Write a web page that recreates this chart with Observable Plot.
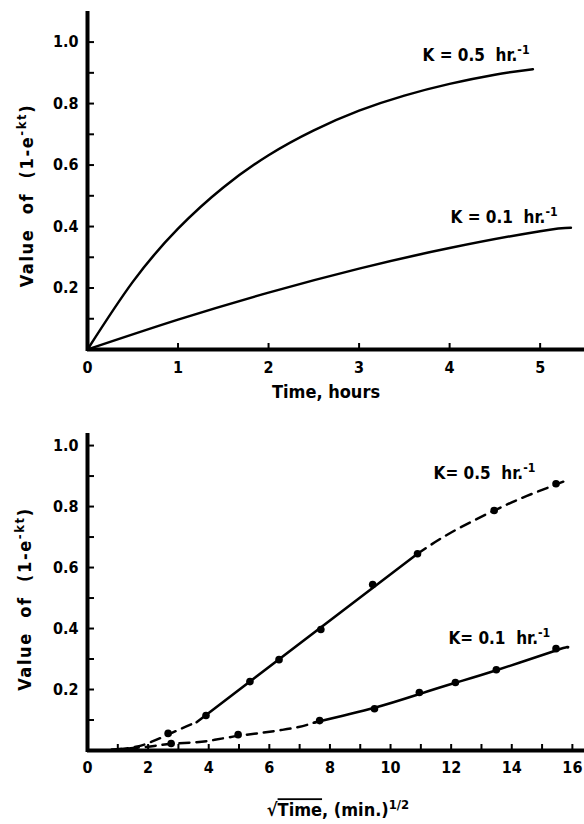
<!DOCTYPE html>
<html><head><meta charset="utf-8">
<script src="https://cdn.jsdelivr.net/npm/d3@7"></script>
<script src="https://cdn.jsdelivr.net/npm/@observablehq/plot@0.6"></script>
<style>
body{margin:0;background:#fff;}
#chart{width:584px;}
svg{display:block;}
</style></head><body><div id="chart"></div>
<script>
// ---------- Top panel data (time in hours) ----------
const hoursK05 = [0, 0.5, 1, 1.5, 2, 2.5, 3, 3.5, 4, 4.5, 4.92];
const valueK05 = [0, 0.22, 0.393, 0.527, 0.632, 0.713, 0.777, 0.826, 0.864, 0.894, 0.912];
const hoursK01 = [0, 1, 2, 3, 4, 5, 5.34];
const valueK01 = [0, 0.097, 0.185, 0.263, 0.33, 0.385, 0.396];
const topXLabels = [0, 1, 2, 3, 4, 5];
const yMinorTicks = [0.1, 0.2, 0.3, 0.4, 0.5, 0.6, 0.7, 0.8, 0.9, 1.0];
const yLabels = [0.2, 0.4, 0.6, 0.8, 1.0];

// ---------- Bottom panel data (sqrt time, min^1/2) ----------
const ptsK05X = [2.66, 3.91, 5.36, 6.32, 7.70, 9.41, 10.89, 13.42, 15.46];
const ptsK05Y = [0.056, 0.115, 0.226, 0.298, 0.397, 0.544, 0.645, 0.787, 0.875];
const ptsK01X = [2.76, 4.97, 7.66, 9.47, 10.95, 12.14, 13.49, 15.46];
const ptsK01Y = [0.023, 0.052, 0.098, 0.137, 0.19, 0.223, 0.265, 0.334];
// fitted lines (solid) and extrapolations (dashed)
const solidK05X = [3.6, 10.89];
const solidK05Y = [0.093, 0.645];
const dashLowK05X = [1.0, 1.6, 2.1, 2.66, 3.1, 3.6];
const dashLowK05Y = [0.004, 0.012, 0.028, 0.052, 0.072, 0.093];
const dashHighK05X = [10.89, 12.0, 13.42, 14.5, 15.46, 15.85];
const dashHighK05Y = [0.645, 0.715, 0.787, 0.835, 0.872, 0.888];
const solidK01X = [7.5, 9.47, 10.95, 12.14, 13.49, 15.46, 15.85];
const solidK01Y = [0.092, 0.14, 0.185, 0.222, 0.263, 0.328, 0.338];
const dashK01X = [0.8, 1.5, 2.2, 2.76, 3.6, 4.2, 4.97, 5.75, 6.38, 6.97, 7.5];
const dashK01Y = [0.003, 0.008, 0.015, 0.022, 0.027, 0.035, 0.048, 0.058, 0.067, 0.077, 0.092];
const botXLabels = [0, 2, 4, 6, 8, 10, 12, 14, 16];
const botXMinor = [1, 2, 3, 4, 5, 6, 7, 8, 9, 10, 11, 12, 13, 14, 15, 16];

const zip = (xs, ys) => xs.map((x, i) => ({x, y: ys[i]}));
const FONT = "'DejaVu Sans Condensed', 'DejaVu Sans', sans-serif";
const f1 = d3.format(".1f");

function richify(svg) {
  svg.querySelectorAll("text").forEach(t => {
    const s = t.textContent;
    if (s.startsWith("Value")) t.style.letterSpacing = "1.6px";
    if (!/[\^~]\{/.test(s) || t.children.length) return;
    while (t.firstChild) t.removeChild(t.firstChild);
    const re = /(\^|~)\{([^}]*)\}/g; let last = 0, m;
    while ((m = re.exec(s))) {
      if (m.index > last) t.appendChild(document.createTextNode(s.slice(last, m.index)));
      const sp = document.createElementNS("http://www.w3.org/2000/svg", "tspan");
      sp.textContent = m[2];
      if (m[1] === "^") { sp.setAttribute("baseline-shift", "super"); sp.setAttribute("font-size", "72%"); }
      else { sp.style.textDecoration = "overline"; }
      t.appendChild(sp); last = re.lastIndex;
    }
    if (last < s.length) t.appendChild(document.createTextNode(s.slice(last)));
  });
  return svg;
}

const style = {fontFamily: FONT, fontWeight: "bold", fontSize: "16px", color: "#000", background: "#fff"};

const topPlot = Plot.plot({
  width: 584, height: 410,
  marginLeft: 87, marginRight: 0, marginTop: 13, marginBottom: 61,
  x: {domain: [0, 5.49]},
  y: {domain: [0, 1.093]},
  style,
  marks: [
    Plot.axisY(yMinorTicks, {tickSize: 7, dx: 7, text: null, label: null, strokeWidth: 2}),
    Plot.axisY(yLabels, {tickSize: 0, tickPadding: 9, tickFormat: f1, label: null, fontSize: 16}),
    Plot.axisX(topXLabels.filter(d => d > 0), {tickSize: 6, dy: -6, text: null, label: null, strokeWidth: 2}),
    Plot.axisX(topXLabels, {tickSize: 0, tickPadding: 12, tickFormat: d3.format("d"), label: null, fontSize: 16}),
    Plot.ruleX([0], {strokeWidth: 4, strokeLinecap: "square"}),
    Plot.ruleY([0], {strokeWidth: 4}),
    Plot.line(zip(hoursK05, valueK05), {x: "x", y: "y", curve: "natural", strokeWidth: 2.5}),
    Plot.line(zip(hoursK01, valueK01), {x: "x", y: "y", curve: "natural", strokeWidth: 2.5}),
    Plot.text(["K = 0.5  hr.^{-1}"], {x: 3.70, y: 0.956, textAnchor: "start", fontSize: 17}),
    Plot.text(["K = 0.1  hr.^{-1}"], {x: 4.01, y: 0.429, textAnchor: "start", fontSize: 17}),
    Plot.text(["Time, hours"], {frameAnchor: "bottom", textAnchor: "middle", lineAnchor: "middle", dx: -10, dy: 43, fontSize: 18}),
    Plot.text(["Value  of  (1-e^{-kt})"], {frameAnchor: "left", textAnchor: "middle", lineAnchor: "middle", rotate: -90, dx: -60, dy: 14, fontSize: 18})
  ]
});

const botPlot = Plot.plot({
  width: 584, height: 414,
  marginLeft: 87, marginRight: 0, marginTop: 25, marginBottom: 74,
  x: {domain: [0, 16.4]},
  y: {domain: [0, 1.033]},
  style,
  marks: [
    Plot.axisY(yMinorTicks, {tickSize: 7, dx: 7, text: null, label: null, strokeWidth: 2}),
    Plot.axisY(yLabels, {tickSize: 0, tickPadding: 9, tickFormat: f1, label: null, fontSize: 16}),
    Plot.axisX(botXMinor, {tickSize: 6, dy: -6, text: null, label: null, strokeWidth: 2}),
    Plot.axisX(botXLabels, {tickSize: 0, tickPadding: 11, tickFormat: d3.format("d"), label: null, fontSize: 16}),
    Plot.ruleX([0], {strokeWidth: 4, strokeLinecap: "square"}),
    Plot.ruleY([0], {strokeWidth: 4}),
    Plot.line(zip(dashLowK05X, dashLowK05Y), {x: "x", y: "y", curve: "natural", strokeWidth: 2.5, strokeDasharray: "10,7"}),
    Plot.line(zip(dashHighK05X, dashHighK05Y), {x: "x", y: "y", curve: "natural", strokeWidth: 2.5, strokeDasharray: "10,7"}),
    Plot.line(zip(solidK05X, solidK05Y), {x: "x", y: "y", strokeWidth: 2.5}),
    Plot.line(zip(dashK01X, dashK01Y), {x: "x", y: "y", curve: "natural", strokeWidth: 2.5, strokeDasharray: "10,7"}),
    Plot.line(zip(solidK01X, solidK01Y), {x: "x", y: "y", curve: "natural", strokeWidth: 2.5}),
    Plot.dot(zip(ptsK05X, ptsK05Y), {x: "x", y: "y", r: 3.8, fill: "#000"}),
    Plot.dot(zip(ptsK01X, ptsK01Y), {x: "x", y: "y", r: 3.8, fill: "#000"}),
    Plot.text(["K= 0.5  hr.^{-1}"], {x: 11.42, y: 0.908, textAnchor: "start", fontSize: 17}),
    Plot.text(["K= 0.1  hr.^{-1}"], {x: 11.91, y: 0.367, textAnchor: "start", fontSize: 17}),
    Plot.text(["√~{Time}, (min.)^{1/2}"], {frameAnchor: "bottom", textAnchor: "middle", lineAnchor: "middle", dx: 2, dy: 60, fontSize: 18}),
    Plot.text(["Value  of  (1-e^{-kt})"], {frameAnchor: "left", textAnchor: "middle", lineAnchor: "middle", rotate: -90, dx: -62, dy: 6, fontSize: 18})
  ]
});

const chart = document.getElementById("chart");
chart.appendChild(richify(topPlot));
chart.appendChild(richify(botPlot));
</script></body></html>
